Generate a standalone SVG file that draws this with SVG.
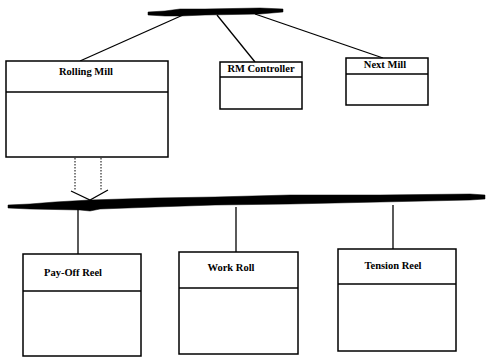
<svg xmlns="http://www.w3.org/2000/svg" width="490" height="358" viewBox="0 0 490 358">
<style>
.box{fill:#fff;stroke:#000;stroke-width:1.5}
.div{stroke:#000;stroke-width:1.4}
.lbl{font-family:"Liberation Serif","Times New Roman",serif;font-size:10.5px;font-weight:bold;fill:#000;text-anchor:middle}
.ln{stroke:#000;stroke-width:1.3;fill:none}
.dot{stroke:#000;stroke-width:1;stroke-dasharray:1.5,1.5;fill:none}
.bus{fill:#000;stroke:#000;stroke-width:0.5}
</style>
<rect width="490" height="358" fill="#fff"/>
<g id="connectors">
<line class="ln" x1="183" y1="15" x2="80" y2="61"/>
<line class="ln" x1="217" y1="15" x2="255" y2="62"/>
<line class="ln" x1="255" y1="14" x2="383" y2="58"/>
<line class="dot" x1="75" y1="158" x2="75" y2="191"/>
<line class="dot" x1="101" y1="158" x2="101" y2="190"/>
<polyline class="ln" points="71,191 90,200 108,190" stroke-width="1"/>
<line class="ln" x1="78" y1="209" x2="78" y2="254"/>
<line class="ln" x1="236" y1="207" x2="236" y2="252"/>
<line class="ln" x1="393" y1="205" x2="393" y2="249"/>
</g>
<g id="top-bus">
<polygon class="bus" points="148,12 165,11 180,9 205,9 260,8 283,9 283,12 260,14 205,15 180,16 165,16 148,15"/>
</g>
<g id="bottom-bus">
<polygon class="bus" points="8,205 30,204 55,202 90,200 155,198 215,197 290,195 380,195 470,194 485,195 485,199 470,200 380,202 290,204 215,205 155,207 100,209 90,211 80,210 30,209 8,208"/>
</g>
<g id="rolling-mill">
<rect class="box" x="6" y="61" width="162" height="96"/>
<line class="div" x1="6" y1="92" x2="168" y2="92"/>
<text class="lbl" x="86" y="75">Rolling Mill</text>
</g>
<g id="rm-controller">
<rect class="box" x="220" y="62" width="82" height="47"/>
<line class="div" x1="220" y1="77" x2="302" y2="77"/>
<text class="lbl" x="261" y="72">RM Controller</text>
</g>
<g id="next-mill">
<rect class="box" x="346" y="58" width="82" height="47"/>
<line class="div" x1="346" y1="74" x2="428" y2="74"/>
<text class="lbl" x="385" y="68">Next Mill</text>
</g>
<g id="pay-off-reel">
<rect class="box" x="23" y="254" width="118" height="102"/>
<line class="div" x1="23" y1="291" x2="141" y2="291"/>
<text class="lbl" x="73" y="276">Pay-Off Reel</text>
</g>
<g id="work-roll">
<rect class="box" x="179" y="252" width="119" height="102"/>
<line class="div" x1="179" y1="288" x2="298" y2="288"/>
<text class="lbl" x="231" y="271">Work Roll</text>
</g>
<g id="tension-reel">
<rect class="box" x="338" y="249" width="118" height="102"/>
<line class="div" x1="338" y1="284" x2="456" y2="284"/>
<text class="lbl" x="393" y="269">Tension Reel</text>
</g>
</svg>
